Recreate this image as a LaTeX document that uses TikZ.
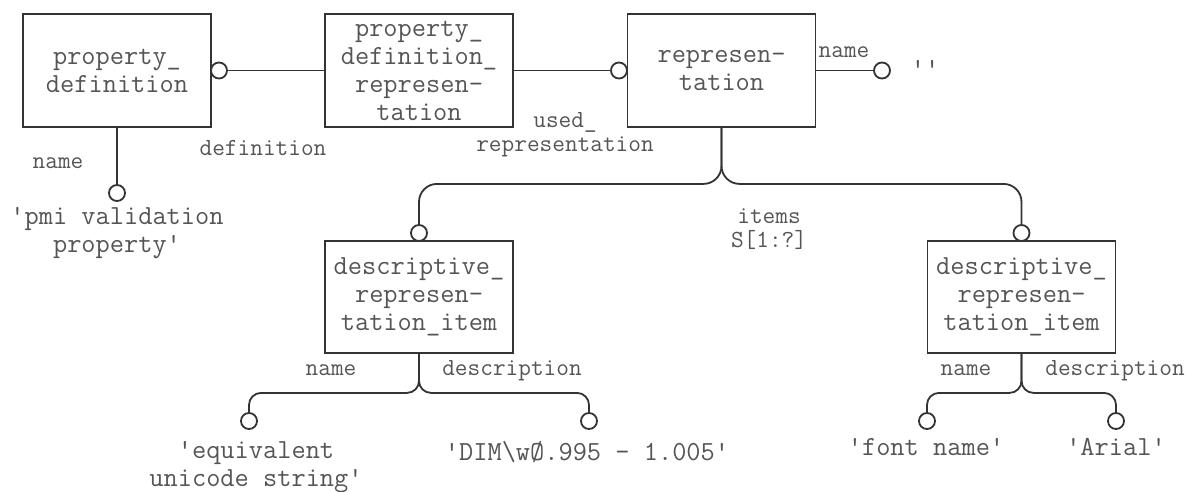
\documentclass[tikz,border=0pt]{standalone}
\usepackage{fontspec}
\setmonofont{Latin Modern Mono}
\usepackage{tikz}
\definecolor{inkgray}{HTML}{333333}
\definecolor{textgray}{HTML}{555555}
\newcommand\erfont{\ttfamily\fontsize{27.6}{28}\selectfont}
\newcommand\rolefont{\ttfamily\fontsize{24.6}{24}\selectfont}

\begin{document}
\begin{tikzpicture}[x=1pt,y=-1pt,
        ent/.style={rectangle,draw=inkgray,line width=1.8pt,minimum width=188pt,
                    minimum height=113pt,inner sep=0pt,align=center,font=\erfont,text=textgray},
        ring/.style={circle,draw=inkgray,line width=1.8pt,minimum size=16pt,inner sep=0pt},
        attr/.style={font=\rolefont,text=textgray,anchor=base,inner sep=0pt},
        role/.style={font=\rolefont,text=textgray,align=center,inner sep=0pt},
        val/.style={font=\erfont,text=textgray,align=center,inner sep=0pt},
        valb/.style={val,anchor=base},
        rel/.style={draw=inkgray,line width=1.8pt},
        fork/.style={rel,rounded corners=18pt},
        twig/.style={rel,rounded corners=12pt}]
      \useasboundingbox (0,0) rectangle (1193,491);
      \node[ent](pd)  at(117,70.5){property\_\\definition};
      \node[ent](pdr) at(419,70.5){property\_\\definition\_\\represen-\\tation};
      \node[ent](rep) at(721.5,70.5){represen-\\tation};
      \node[ent,minimum height=112pt](dri1) at(419,297){descriptive\_\\represen-\\tation\_item};
      \node[ent,minimum height=112pt](dri2) at(1021.5,297){descriptive\_\\represen-\\tation\_item};
      \node[ring](c1)  at(219,70.5){};
      \node[ring](c2)  at(619,70.5){};
      \node[ring](c3)  at(882,70.5){};
      \node[ring](c4)  at(117,193){};
      \node[ring](c5)  at(419,233){};
      \node[ring](c6)  at(1021.5,233){};
      \node[ring](c7)  at(249,421){};
      \node[ring](c8)  at(589,421){};
      \node[ring](c9)  at(927,421){};
      \node[ring](c10) at(1116,421){};
      \draw[rel](c1)--(pdr);
      \draw[rel](pdr)--(c2);
      \draw[rel](rep)--(c3);
      \draw[rel](pd)--(c4);
      \draw[fork](rep.south)--++(0,56)-|(c5);
      \draw[fork](rep.south)--++(0,56)-|(c6);
      \draw[twig](dri1.south)--++(0,39)-|(c7);
      \draw[twig](dri1.south)--++(0,39)-|(c8);
      \draw[twig](dri2.south)--++(0,39)-|(c9);
      \draw[twig](dri2.south)--++(0,39)-|(c10);
      \node[attr](l1) at(58,168){name};
      \node[attr](l2) at(263,155){definition};
      \node[role](l3) at(565,135){used\_\\representation};
      \node[attr](l4) at(844,57){name};
      \node[valb](v1) at(925,77){''};
      \node[role](l5) at(769,229){items\\S[1:?]};
      \node[val] (v2) at(117,233){'pmi validation\\property'};
      \node[attr](l6) at(331,375){name};
      \node[attr](l7) at(512,375){description};
      \node[val] (v3) at(256,467){'equivalent\\unicode string'};
      \node[valb](v4) at(587,460){'DIM\textbackslash wØ.995 - 1.005'};
      \node[attr](l8) at(966,375){name};
      \node[attr](l9) at(1115,375){description};
      \node[valb](v5) at(926,455){'font name'};
      \node[valb](v6) at(1116,455){'Arial'};
    \end{tikzpicture}
\end{document}
